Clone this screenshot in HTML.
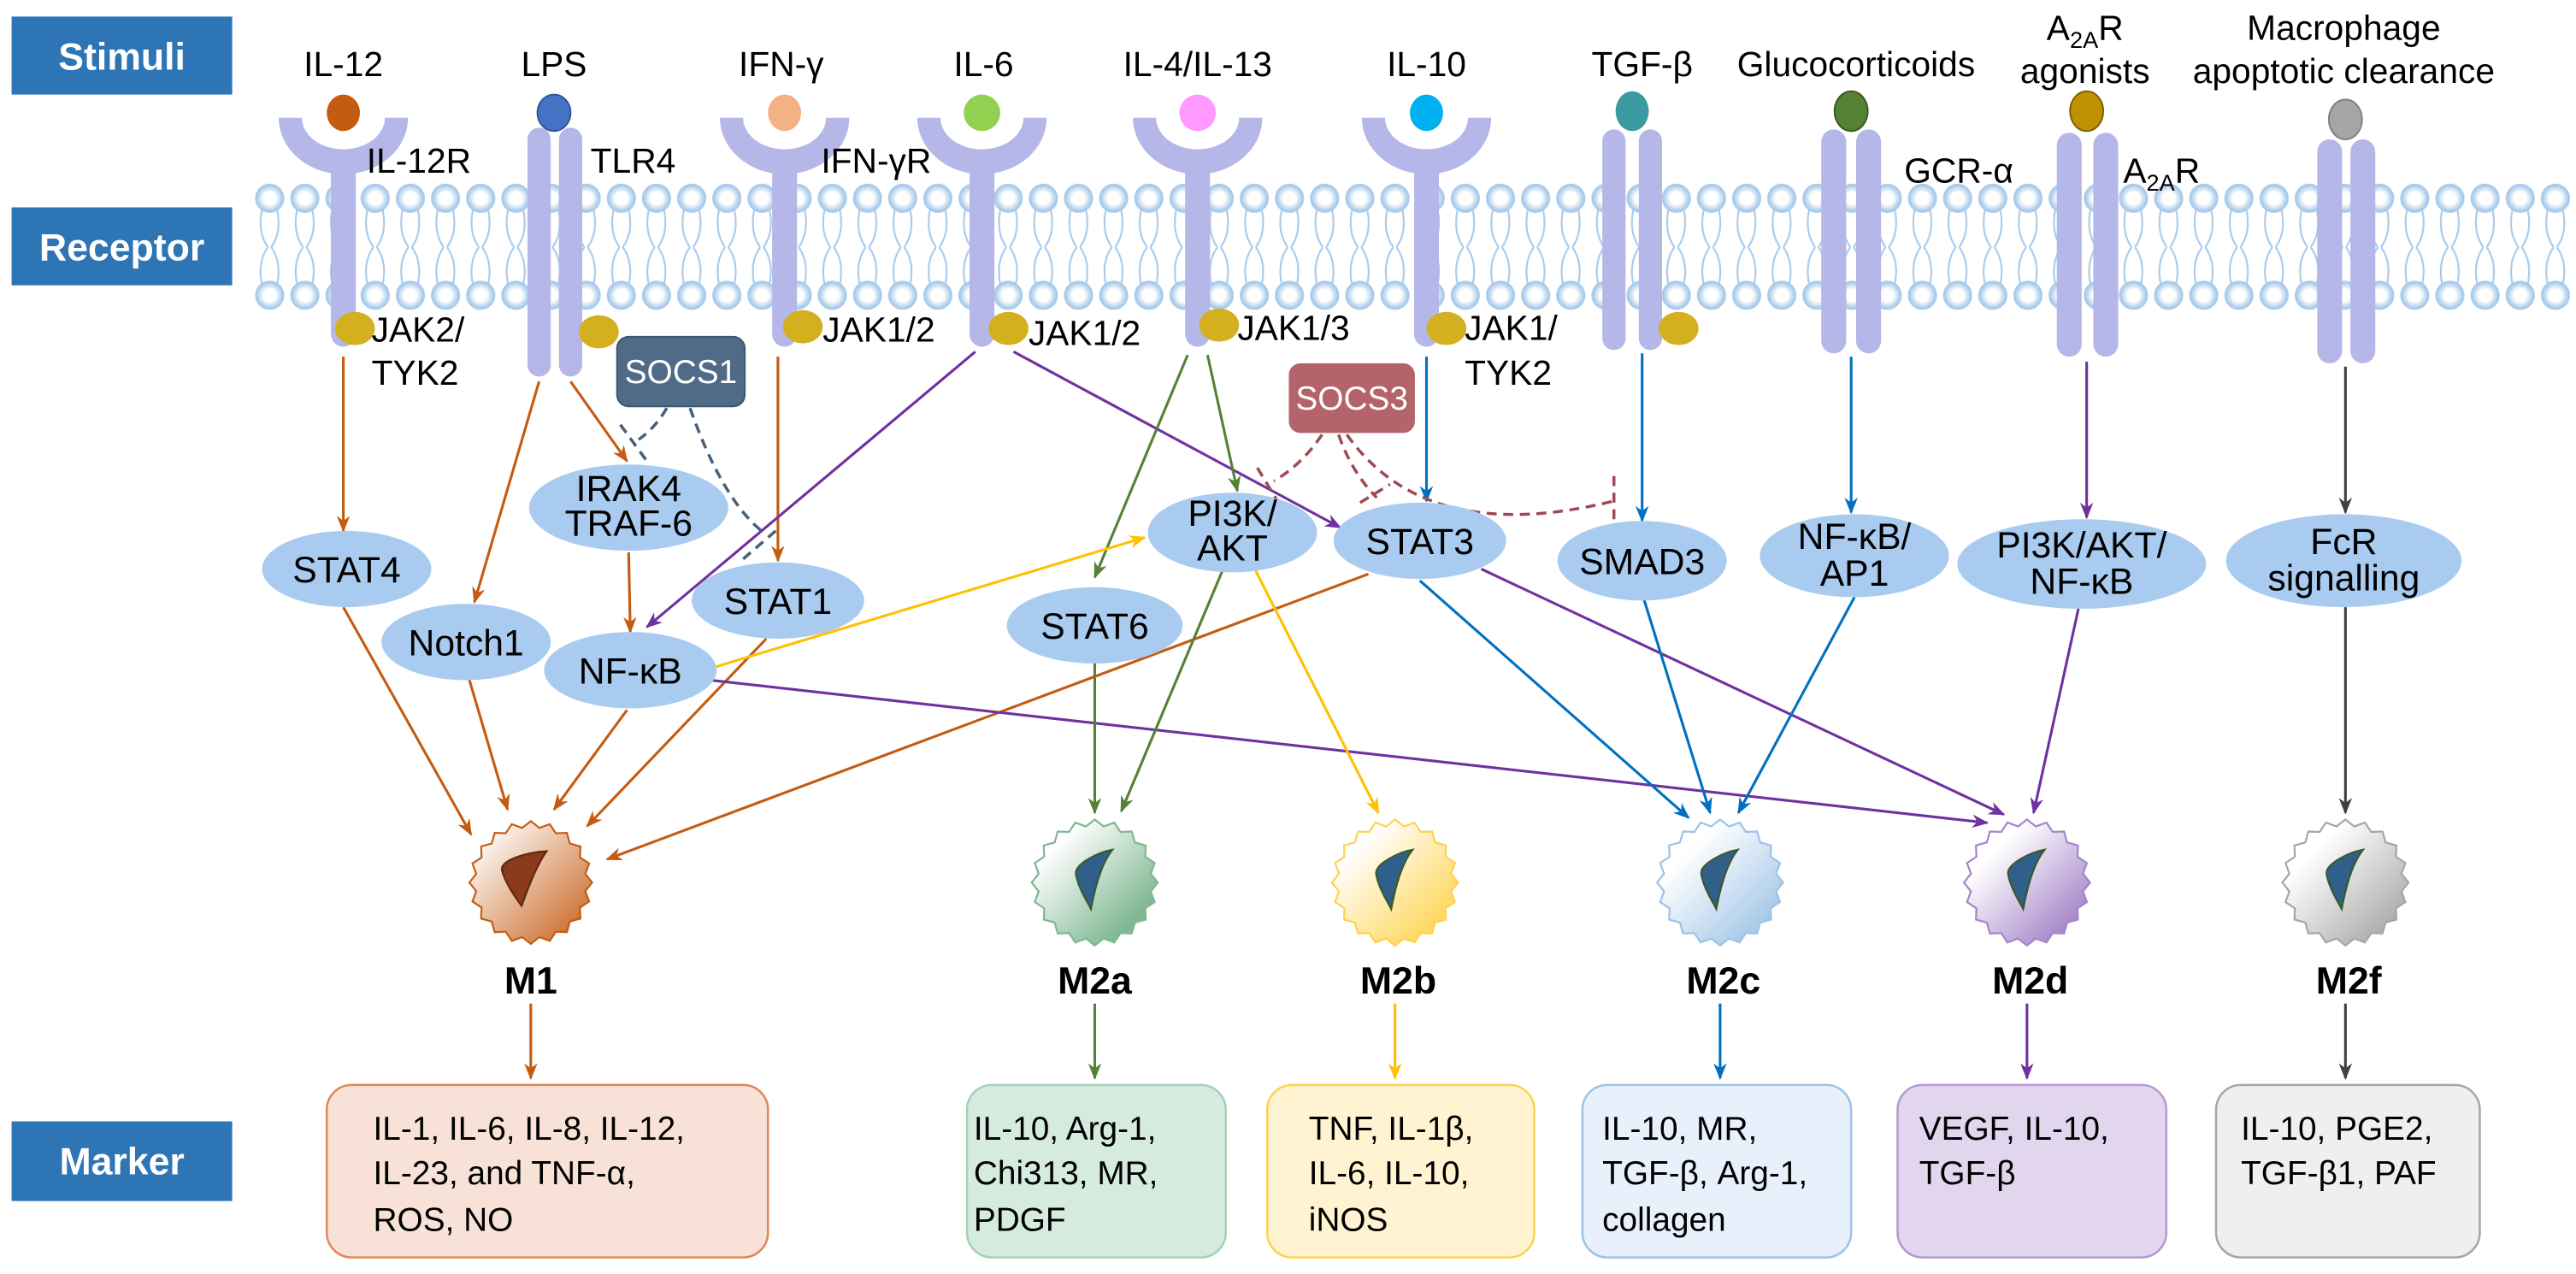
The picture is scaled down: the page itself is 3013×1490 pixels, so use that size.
<!DOCTYPE html>
<html><head><meta charset="utf-8">
<style>html,body{margin:0;padding:0;background:#fff}svg{display:block}
text{font-family:"Liberation Sans",Arial,sans-serif}</style></head>
<body>
<svg xmlns="http://www.w3.org/2000/svg" width="3013" height="1490" viewBox="0 0 1553 768" preserveAspectRatio="none">
<defs>
<radialGradient id="hg" cx="50%" cy="50%" r="50%"><stop offset="0" stop-color="#ffffff"/><stop offset="0.45" stop-color="#ffffff"/><stop offset="1" stop-color="#9dc3e6"/></radialGradient>
<pattern id="mem" x="152" y="110" width="21.2" height="78" patternUnits="userSpaceOnUse">
<path d="M6,16 Q3,30 9.5,39 M15,16 Q18,30 11.5,39 M6,62 Q3,48 9.5,39 M15,62 Q18,48 11.5,39" stroke="#a8cbeb" stroke-width="1.1" fill="none"/>
<circle cx="10.6" cy="9.5" r="8.3" fill="url(#hg)" stroke="#a8cbeb" stroke-width="1"/>
<circle cx="10.6" cy="68" r="8.3" fill="url(#hg)" stroke="#a8cbeb" stroke-width="1"/>
</pattern>
<marker id="aO" markerWidth="10" markerHeight="10" refX="9" refY="5" orient="auto" markerUnits="userSpaceOnUse"><path d="M0,1 L10,5 L0,9 L3,5 Z" fill="#c55a11"/></marker>
<marker id="aP" markerWidth="10" markerHeight="10" refX="9" refY="5" orient="auto" markerUnits="userSpaceOnUse"><path d="M0,1 L10,5 L0,9 L3,5 Z" fill="#7030a0"/></marker>
<marker id="aG" markerWidth="10" markerHeight="10" refX="9" refY="5" orient="auto" markerUnits="userSpaceOnUse"><path d="M0,1 L10,5 L0,9 L3,5 Z" fill="#548235"/></marker>
<marker id="aY" markerWidth="10" markerHeight="10" refX="9" refY="5" orient="auto" markerUnits="userSpaceOnUse"><path d="M0,1 L10,5 L0,9 L3,5 Z" fill="#ffc000"/></marker>
<marker id="aB" markerWidth="10" markerHeight="10" refX="9" refY="5" orient="auto" markerUnits="userSpaceOnUse"><path d="M0,1 L10,5 L0,9 L3,5 Z" fill="#0070c0"/></marker>
<marker id="aK" markerWidth="10" markerHeight="10" refX="9" refY="5" orient="auto" markerUnits="userSpaceOnUse"><path d="M0,1 L10,5 L0,9 L3,5 Z" fill="#404040"/></marker>
<linearGradient id="g1" x1="0" y1="0" x2="1" y2="1"><stop offset="0.1" stop-color="#fff"/><stop offset="1" stop-color="#c55a11"/></linearGradient>
<linearGradient id="g2" x1="0" y1="0" x2="1" y2="1"><stop offset="0.2" stop-color="#fff"/><stop offset="0.8" stop-color="#7fb893"/></linearGradient>
<linearGradient id="g3" x1="0" y1="0" x2="1" y2="1"><stop offset="0.2" stop-color="#fff"/><stop offset="0.8" stop-color="#ffd966"/></linearGradient>
<linearGradient id="g4" x1="0" y1="0" x2="1" y2="1"><stop offset="0.25" stop-color="#fff"/><stop offset="0.9" stop-color="#9dc3e6"/></linearGradient>
<linearGradient id="g5" x1="0" y1="0" x2="1" y2="1"><stop offset="0.25" stop-color="#fff"/><stop offset="0.85" stop-color="#a585c9"/></linearGradient>
<linearGradient id="g6" x1="0" y1="0" x2="1" y2="1"><stop offset="0.25" stop-color="#fff"/><stop offset="0.9" stop-color="#a6a6a6"/></linearGradient>
<polygon id="star" points="1,0 .889,.141 .951,.309 .802,.409 .809,.588 .636,.636 .588,.809 .409,.802 .309,.951 .141,.889 0,1 -.141,.889 -.309,.951 -.409,.802 -.588,.809 -.636,.636 -.809,.588 -.802,.409 -.951,.309 -.889,.141 -1,0 -.889,-.141 -.951,-.309 -.802,-.409 -.809,-.588 -.636,-.636 -.588,-.809 -.409,-.802 -.309,-.951 -.141,-.889 0,-1 .141,-.889 .309,-.951 .409,-.802 .588,-.809 .636,-.636 .809,-.588 .802,-.409 .951,-.309 .889,-.141"/>
<g id="cup"><path d="M-39,71 A39,34 0 0 0 39,71 L25,71 A25,19 0 0 1 -25,71 Z"/><rect x="-7.5" y="96" width="15" height="113" rx="7.5"/></g>
<path id="nuc" d="M0.28,-0.52 C0.05,-0.48 -0.3,-0.3 -0.3,-0.15 C-0.28,0.05 -0.12,0.3 -0.06,0.42 C0,0.1 0.1,-0.3 0.28,-0.52 Z"/>
</defs>

<!-- side boxes -->
<rect x="7" y="10" width="133" height="47" fill="#2e75b6"/>
<text x="73.5" y="42" font-size="23" font-weight="bold" fill="#fff" text-anchor="middle">Stimuli</text>
<rect x="7" y="125" width="133" height="47" fill="#2e75b6"/>
<text x="73.5" y="157" font-size="23" font-weight="bold" fill="#fff" text-anchor="middle">Receptor</text>
<rect x="7" y="676" width="133" height="48" fill="#2e75b6"/>
<text x="73.5" y="708" font-size="23" font-weight="bold" fill="#fff" text-anchor="middle">Marker</text>

<!-- membrane -->
<rect x="152" y="110" width="1401" height="78" fill="url(#mem)"/>

<!-- stimuli labels -->
<g font-size="21" text-anchor="middle" fill="#000">
<text x="207" y="46">IL-12</text>
<text x="334" y="46">LPS</text>
<text x="471" y="46">IFN-γ</text>
<text x="593" y="46">IL-6</text>
<text x="722" y="46">IL-4/IL-13</text>
<text x="860" y="46">IL-10</text>
<text x="990" y="46">TGF-β</text>
<text x="1119" y="46">Glucocorticoids</text>
<text x="1257" y="24">A<tspan font-size="14" dy="5">2A</tspan><tspan dy="-5">R</tspan></text>
<text x="1257" y="50">agonists</text>
<text x="1413" y="24">Macrophage</text>
<text x="1413" y="50">apoptotic clearance</text>
</g>

<g fill="#b4b7e8">
<use href="#cup" transform="translate(207,0)"/>
<use href="#cup" transform="translate(473,0)"/>
<use href="#cup" transform="translate(592,0)"/>
<use href="#cup" transform="translate(722,0)"/>
<use href="#cup" transform="translate(860,0)"/>
<rect x="318" y="77" width="14" height="150" rx="7"/><rect x="337" y="77" width="14" height="150" rx="7"/>
<rect x="966" y="78" width="14" height="133" rx="7"/><rect x="988" y="78" width="14" height="133" rx="7"/>
<rect x="1098" y="78" width="15" height="135" rx="7.5"/><rect x="1119" y="78" width="15" height="135" rx="7.5"/>
<rect x="1240" y="80" width="15" height="135" rx="7.5"/><rect x="1262" y="80" width="15" height="135" rx="7.5"/>
<rect x="1397" y="84" width="15" height="135" rx="7.5"/><rect x="1417" y="84" width="15" height="135" rx="7.5"/>
</g>
<!-- ligands -->
<ellipse cx="207" cy="68" rx="10" ry="11" fill="#c55a11"/>
<ellipse cx="334" cy="68" rx="10" ry="11" fill="#4472c4" stroke="#2f5597" stroke-width="1"/>
<ellipse cx="473" cy="68" rx="10" ry="11" fill="#f4b183"/>
<ellipse cx="592" cy="68" rx="11" ry="11" fill="#92d050"/>
<ellipse cx="722" cy="68" rx="11" ry="11" fill="#ff99ff"/>
<ellipse cx="860" cy="68" rx="10" ry="11" fill="#00b0f0"/>
<ellipse cx="984" cy="67" rx="10" ry="12" fill="#3a9a9f"/>
<ellipse cx="1116" cy="67" rx="10" ry="12" fill="#548235" stroke="#385723" stroke-width="1"/>
<ellipse cx="1258" cy="67" rx="10" ry="12" fill="#bf9000" stroke="#7f6000" stroke-width="1"/>
<ellipse cx="1414" cy="72" rx="10" ry="12" fill="#a6a6a6" stroke="#7f7f7f" stroke-width="1"/>
<!-- JAK blobs -->
<g fill="#d4af1f">
<ellipse cx="214" cy="198" rx="12" ry="10"/>
<ellipse cx="361" cy="200" rx="12" ry="10"/>
<ellipse cx="484" cy="197" rx="12" ry="10"/>
<ellipse cx="608" cy="198" rx="12" ry="10"/>
<ellipse cx="735" cy="196" rx="12" ry="10"/>
<ellipse cx="872" cy="198" rx="12" ry="10"/>
<ellipse cx="1012" cy="198" rx="12" ry="10"/>
</g>
<!-- receptor labels -->
<g font-size="21" fill="#000">
<text x="221" y="104">IL-12R</text>
<text x="356" y="104">TLR4</text>
<text x="495" y="104">IFN-γR</text>
<text x="1148" y="110">GCR-α</text>
<text x="1280" y="110">A<tspan font-size="14" dy="5">2A</tspan><tspan dy="-5">R</tspan></text>
<text x="224" y="206">JAK2/</text><text x="224" y="232">TYK2</text>
<text x="496" y="206">JAK1/2</text>
<text x="620" y="208">JAK1/2</text>
<text x="746" y="205">JAK1/3</text>
<text x="883" y="205">JAK1/</text><text x="883" y="232">TYK2</text>
</g>

<!-- SOCS boxes -->
<rect x="372" y="203" width="77" height="42" rx="7" fill="#4f6b87" stroke="#3d5570" stroke-width="1"/>
<text x="410.5" y="231" font-size="20" fill="#fff" text-anchor="middle">SOCS1</text>
<rect x="777" y="219" width="76" height="42" rx="7" fill="#b5636b"/>
<text x="815" y="247" font-size="20" fill="#fff" text-anchor="middle">SOCS3</text>

<!-- cells (drawn before connectors so arrowheads stay visible) -->
<g stroke-width="0.03">
<use href="#star" transform="translate(320,532) scale(37)" fill="url(#g1)" stroke="#c55a11"/>
<use href="#star" transform="translate(660,532) scale(38)" fill="url(#g2)" stroke="#7fb893"/>
<use href="#star" transform="translate(841,532) scale(38)" fill="url(#g3)" stroke="#ffd24d"/>
<use href="#star" transform="translate(1037,532) scale(38)" fill="url(#g4)" stroke="#9dc3e6"/>
<use href="#star" transform="translate(1222,532) scale(38)" fill="url(#g5)" stroke="#a585c9"/>
<use href="#star" transform="translate(1414,532) scale(38)" fill="url(#g6)" stroke="#a6a6a6"/>
</g>
<path transform="translate(320,532) scale(37)" d="M0.26,-0.51 C0,-0.5 -0.5,-0.38 -0.47,-0.2 C-0.42,0 -0.25,0.25 -0.15,0.38 C-0.05,0.1 0.1,-0.3 0.26,-0.51 Z" fill="#8b3a1a" stroke="#5a2a10" stroke-width="0.03"/>
<g fill="#2f5f8a" stroke="#3a5a2a" stroke-width="0.03">
<use href="#nuc" transform="translate(660,532) scale(38)"/>
<use href="#nuc" transform="translate(841,532) scale(38)"/>
<use href="#nuc" transform="translate(1037,532) scale(38)"/>
<use href="#nuc" transform="translate(1222,532) scale(38)"/>
<use href="#nuc" transform="translate(1414,532) scale(38)"/>
</g>

<!-- connectors -->
<g fill="none" stroke-width="1.6">
<g stroke="#c55a11" marker-end="url(#aO)">
<line x1="207" y1="215" x2="207" y2="320"/>
<line x1="325" y1="230" x2="286" y2="363"/>
<line x1="344" y1="230" x2="378" y2="278"/>
<line x1="469" y1="215" x2="469" y2="338"/>
<line x1="379" y1="333" x2="380" y2="381"/>
<line x1="207" y1="366" x2="284" y2="503"/>
<line x1="283" y1="410" x2="306" y2="488"/>
<line x1="378" y1="428" x2="334" y2="488"/>
<line x1="462" y1="385" x2="354" y2="498"/>
<line x1="825" y1="346" x2="366" y2="518"/>
<line x1="320" y1="605" x2="320" y2="650"/>
</g>
<g stroke="#7030a0" marker-end="url(#aP)">
<line x1="588" y1="212" x2="390" y2="378"/>
<line x1="611" y1="212" x2="808" y2="318"/>
<line x1="428" y1="410" x2="1198" y2="496"/>
<line x1="893" y1="343" x2="1208" y2="491"/>
<line x1="1258" y1="218" x2="1258" y2="312"/>
<line x1="1253" y1="367" x2="1226" y2="490"/>
<line x1="1222" y1="605" x2="1222" y2="650"/>
</g>
<g stroke="#548235" marker-end="url(#aG)">
<line x1="716" y1="214" x2="660" y2="348"/>
<line x1="728" y1="214" x2="746" y2="296"/>
<line x1="660" y1="396" x2="660" y2="490"/>
<line x1="737" y1="344" x2="676" y2="489"/>
<line x1="660" y1="605" x2="660" y2="650"/>
</g>
<g stroke="#ffc000" marker-end="url(#aY)">
<line x1="428" y1="403" x2="690" y2="324"/>
<line x1="757" y1="344" x2="831" y2="490"/>
<line x1="841" y1="605" x2="841" y2="650"/>
</g>
<g stroke="#0070c0" marker-end="url(#aB)">
<line x1="860" y1="215" x2="860" y2="302"/>
<line x1="990" y1="213" x2="990" y2="314"/>
<line x1="1116" y1="215" x2="1116" y2="309"/>
<line x1="856" y1="350" x2="1018" y2="493"/>
<line x1="991" y1="361" x2="1031" y2="490"/>
<line x1="1118" y1="360" x2="1048" y2="490"/>
<line x1="1037" y1="605" x2="1037" y2="650"/>
</g>
<g stroke="#404040" marker-end="url(#aK)">
<line x1="1414" y1="221" x2="1414" y2="309"/>
<line x1="1414" y1="366" x2="1414" y2="490"/>
<line x1="1414" y1="605" x2="1414" y2="650"/>
</g>
<g stroke="#44607a" stroke-dasharray="6,4" stroke-width="1.8">
<path d="M402,246 Q395,258 385,265"/>
<path d="M374,256 L390,278"/>
<path d="M416,246 Q435,300 459,320"/>
<path d="M448,337 L470,318"/>
</g>
<g stroke="#9e4a55" stroke-dasharray="6,4" stroke-width="1.8">
<path d="M797,262 Q785,280 768,290"/>
<path d="M758,282 L772,305"/>
<path d="M807,262 Q815,285 830,300"/>
<path d="M820,303 L838,292"/>
<path d="M812,262 Q860,330 973,302"/>
<path d="M973,287 L973,318"/>
</g>
</g>

<!-- nodes -->
<g fill="#a9cbef">
<ellipse cx="209" cy="343" rx="51" ry="23"/>
<ellipse cx="379" cy="306" rx="60" ry="26"/>
<ellipse cx="281" cy="387" rx="51" ry="23"/>
<ellipse cx="469" cy="362" rx="52" ry="23"/>
<ellipse cx="380" cy="404" rx="52" ry="23"/>
<ellipse cx="660" cy="377" rx="53" ry="23"/>
<ellipse cx="743" cy="321" rx="51" ry="24"/>
<ellipse cx="856" cy="326" rx="52" ry="23"/>
<ellipse cx="990" cy="338" rx="51" ry="24"/>
<ellipse cx="1118" cy="335" rx="57" ry="25"/>
<ellipse cx="1255" cy="340" rx="75" ry="27"/>
<ellipse cx="1413" cy="338" rx="71" ry="28"/>
</g>
<g font-size="22" text-anchor="middle" fill="#000">
<text x="209" y="351">STAT4</text>
<text x="379" y="302">IRAK4</text><text x="379" y="323">TRAF-6</text>
<text x="281" y="395">Notch1</text>
<text x="469" y="370">STAT1</text>
<text x="380" y="412">NF-κB</text>
<text x="660" y="385">STAT6</text>
<text x="743" y="317">PI3K/</text><text x="743" y="338">AKT</text>
<text x="856" y="334">STAT3</text>
<text x="990" y="346">SMAD3</text>
<text x="1118" y="331">NF-κB/</text><text x="1118" y="353">AP1</text>
<text x="1255" y="336">PI3K/AKT/</text><text x="1255" y="358">NF-κB</text>
<text x="1413" y="334">FcR</text><text x="1413" y="356">signalling</text>
</g>

<g font-size="23" font-weight="bold" text-anchor="middle" fill="#000">
<text x="320" y="599">M1</text>
<text x="660" y="599">M2a</text>
<text x="843" y="599">M2b</text>
<text x="1039" y="599">M2c</text>
<text x="1224" y="599">M2d</text>
<text x="1416" y="599">M2f</text>
</g>

<!-- marker boxes -->
<rect x="197" y="654" width="266" height="104" rx="15" fill="#f8e2d8" stroke="#e0875a" stroke-width="1.3"/>
<rect x="583" y="654" width="156" height="104" rx="15" fill="#d6ebe0" stroke="#a5d0b8" stroke-width="1.3"/>
<rect x="764" y="654" width="161" height="104" rx="15" fill="#fff3d2" stroke="#ffd24d" stroke-width="1.3"/>
<rect x="954" y="654" width="162" height="104" rx="15" fill="#e8f1fb" stroke="#9dc3e6" stroke-width="1.3"/>
<rect x="1144" y="654" width="162" height="104" rx="15" fill="#e2d5ee" stroke="#b59ad3" stroke-width="1.3"/>
<rect x="1336" y="654" width="159" height="104" rx="15" fill="#efefef" stroke="#a6a6a6" stroke-width="1.3"/>
<g font-size="20" fill="#000">
<text x="225" y="687">IL-1, IL-6, IL-8, IL-12,</text>
<text x="225" y="714">IL-23, and TNF-α,</text>
<text x="225" y="742">ROS, NO</text>
<text x="587" y="687">IL-10, Arg-1,</text>
<text x="587" y="714">Chi313, MR,</text>
<text x="587" y="742">PDGF</text>
<text x="789" y="687">TNF, IL-1β,</text>
<text x="789" y="714">IL-6, IL-10,</text>
<text x="789" y="742">iNOS</text>
<text x="966" y="687">IL-10, MR,</text>
<text x="966" y="714">TGF-β, Arg-1,</text>
<text x="966" y="742">collagen</text>
<text x="1157" y="687">VEGF, IL-10,</text>
<text x="1157" y="714">TGF-β</text>
<text x="1351" y="687">IL-10, PGE2,</text>
<text x="1351" y="714">TGF-β1, PAF</text>
</g>
</svg>
</body></html>
